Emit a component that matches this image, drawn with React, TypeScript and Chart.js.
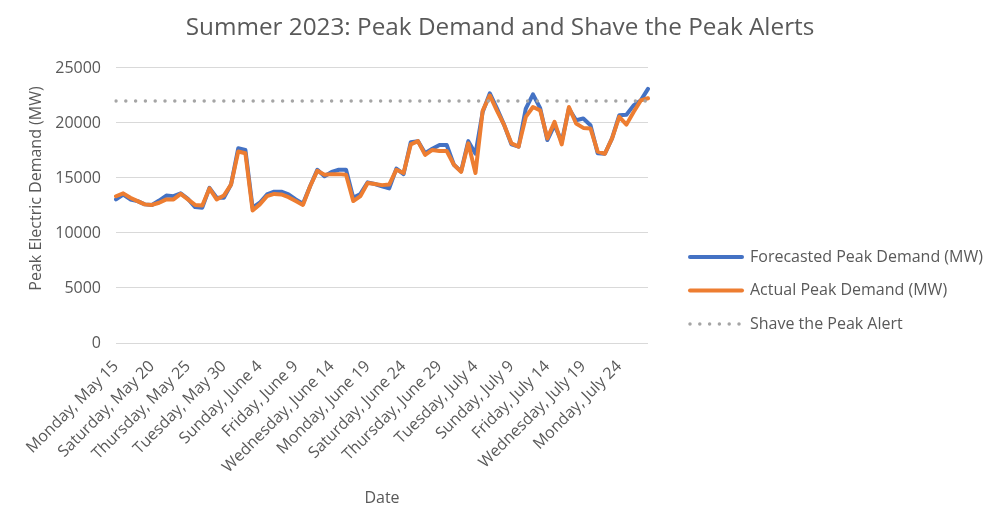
import React, { useEffect, useRef } from 'react';
import { Chart, registerables } from 'chart.js';

Chart.register(...registerables);

const categories = [
  'Monday, May 15', 'Tuesday, May 16', 'Wednesday, May 17', 'Thursday, May 18', 'Friday, May 19',
  'Saturday, May 20', 'Sunday, May 21', 'Monday, May 22', 'Tuesday, May 23', 'Wednesday, May 24',
  'Thursday, May 25', 'Friday, May 26', 'Saturday, May 27', 'Sunday, May 28', 'Monday, May 29',
  'Tuesday, May 30', 'Wednesday, May 31', 'Thursday, June 1', 'Friday, June 2', 'Saturday, June 3',
  'Sunday, June 4', 'Monday, June 5', 'Tuesday, June 6', 'Wednesday, June 7', 'Thursday, June 8',
  'Friday, June 9', 'Saturday, June 10', 'Sunday, June 11', 'Monday, June 12', 'Tuesday, June 13',
  'Wednesday, June 14', 'Thursday, June 15', 'Friday, June 16', 'Saturday, June 17', 'Sunday, June 18',
  'Monday, June 19', 'Tuesday, June 20', 'Wednesday, June 21', 'Thursday, June 22', 'Friday, June 23',
  'Saturday, June 24', 'Sunday, June 25', 'Monday, June 26', 'Tuesday, June 27', 'Wednesday, June 28',
  'Thursday, June 29', 'Friday, June 30', 'Saturday, July 1', 'Sunday, July 2', 'Monday, July 3',
  'Tuesday, July 4', 'Wednesday, July 5', 'Thursday, July 6', 'Friday, July 7', 'Saturday, July 8',
  'Sunday, July 9', 'Monday, July 10', 'Tuesday, July 11', 'Wednesday, July 12', 'Thursday, July 13',
  'Friday, July 14', 'Saturday, July 15', 'Sunday, July 16', 'Monday, July 17', 'Tuesday, July 18',
  'Wednesday, July 19', 'Thursday, July 20', 'Friday, July 21', 'Saturday, July 22', 'Sunday, July 23',
  'Monday, July 24', 'Tuesday, July 25', 'Wednesday, July 26', 'Thursday, July 27', 'Friday, July 28',
];

const forecastMW = [
  13050, 13500, 13050, 12900, 12600, 12550, 12950, 13400, 13350, 13600,
  13100, 12350, 12300, 14100, 13200, 13200, 14400, 17700, 17550, 12300,
  12750, 13500, 13750, 13750, 13500, 13050, 12650, 14250, 15750, 15150,
  15550, 15750, 15750, 13200, 13550, 14600, 14450, 14250, 14050, 15850,
  15350, 18250, 18350, 17250, 17650, 18000, 18000, 16200, 15600, 18350,
  17200, 21000, 22700, 21300, 19800, 18050, 17850, 21300, 22600, 21350,
  18450, 19800, 18300, 21300, 20250, 20400, 19800, 17250, 17200, 18600,
  20700, 20750, 21600, 22050, 23100,
];

const actualMW = [
  13340, 13600, 13200, 12900, 12600, 12550, 12750, 13050, 13050, 13550,
  13050, 12550, 12500, 14050, 13050, 13400, 14400, 17400, 17250, 12050,
  12600, 13350, 13550, 13500, 13250, 12900, 12550, 14250, 15650, 15300,
  15350, 15350, 15300, 12900, 13350, 14550, 14450, 14350, 14400, 15750,
  15450, 18050, 18350, 17100, 17550, 17450, 17450, 16200, 15550, 18150,
  15450, 21100, 22500, 21100, 19800, 18150, 17850, 20550, 21450, 21150,
  18600, 20100, 18050, 21450, 19950, 19550, 19500, 17400, 17200, 18600,
  20550, 19850, 21000, 22050, 22250,
];

const ALERT_MW = 22000;
const alertMW = categories.map(() => ALERT_MW);

const Y_MIN = 0;
const Y_MAX = 25000;
const Y_STEP = 5000;
const LABEL_EVERY = 5;

const TEXT = '#595959';
const FONT = 'Open Sans';

const sideLegend = {
  id: 'sideLegend',
  afterDraw(chart: any) {
    const { ctx, chartArea } = chart;
    const x0 = chartArea.right + 42;
    const x1 = x0 + 52;
    const textX = x1 + 8;
    const yStart = 257;
    const gap = 33.5;
    chart.data.datasets.forEach((ds: any, i: number) => {
      const y = yStart + i * gap;
      ctx.save();
      ctx.strokeStyle = ds.borderColor;
      ctx.lineWidth = ds.borderWidth;
      ctx.lineCap = 'round';
      ctx.setLineDash(ds.borderDash || []);
      ctx.beginPath();
      ctx.moveTo(x0, y);
      ctx.lineTo(x1, y);
      ctx.stroke();
      ctx.setLineDash([]);
      ctx.fillStyle = TEXT;
      ctx.font = `16px "${FONT}"`;
      ctx.textAlign = 'left';
      ctx.textBaseline = 'middle';
      ctx.fillText(ds.label, textX, y);
      ctx.restore();
    });
  },
};

export default function App() {
  const ref = useRef<HTMLCanvasElement | null>(null);

  useEffect(() => {
    document.body.style.margin = '0';
    const canvas = ref.current;
    if (!canvas) return;
    Chart.defaults.font.family = FONT;
    const chart = new Chart(canvas, {
      type: 'line',
      data: {
        labels: categories,
        datasets: [
          {
            label: 'Forecasted Peak Demand (MW)',
            data: forecastMW,
            borderColor: '#4472C4',
            backgroundColor: '#4472C4',
            borderWidth: 4,
            pointRadius: 0,
            tension: 0,
            borderJoinStyle: 'round',
            borderCapStyle: 'round',
            order: 3,
          },
          {
            label: 'Actual Peak Demand (MW)',
            data: actualMW,
            borderColor: '#ED7D31',
            backgroundColor: '#ED7D31',
            borderWidth: 4,
            pointRadius: 0,
            tension: 0,
            borderJoinStyle: 'round',
            borderCapStyle: 'round',
            order: 2,
          },
          {
            label: 'Shave the Peak Alert',
            data: alertMW,
            borderColor: '#A5A5A5',
            backgroundColor: '#A5A5A5',
            borderWidth: 3.5,
            borderDash: [0, 9.8],
            borderCapStyle: 'round',
            pointRadius: 0,
            tension: 0,
            order: 1,
          },
        ],
      },
      options: {
        responsive: false,
        animation: false,
        layout: { padding: 0 },
        plugins: {
          legend: { display: false },
          tooltip: { enabled: false },
          title: {
            display: true,
            text: 'Summer 2023: Peak Demand and Shave the Peak Alerts',
            color: TEXT,
            font: { family: FONT, size: 24.3, weight: 'normal' },
            padding: { top: 13.4, bottom: 25.4 },
          },
        },
        scales: {
          x: {
            type: 'category',
            offset: false,
            grid: { display: false },
            border: { display: false },
            ticks: {
              autoSkip: false,
              maxRotation: 45,
              minRotation: 45,
              color: TEXT,
              font: { family: FONT, size: 16 },
              padding: 6,
              callback: (_v: any, i: number) => (i % LABEL_EVERY === 0 ? categories[i] : ''),
            },
            title: {
              display: true,
              text: 'Date',
              color: TEXT,
              font: { family: FONT, size: 16 },
              padding: { top: 0, bottom: 22.4 },
            },
            afterFit: (scale: any) => {
              scale.height = 187;
            },
          },
          y: {
            min: Y_MIN,
            max: Y_MAX,
            grid: { color: '#D9D9D9', lineWidth: 1, drawTicks: false },
            border: { display: false },
            ticks: {
              stepSize: Y_STEP,
              color: TEXT,
              font: { family: FONT, size: 16 },
              padding: 15,
              callback: (v: any) => String(v),
            },
            title: {
              display: true,
              text: 'Peak Electric Demand (MW)',
              color: TEXT,
              font: { family: FONT, size: 16 },
              padding: { top: 26.4, bottom: 0 },
            },
            afterFit: (scale: any) => {
              scale.width = 116;
            },
            afterUpdate: (scale: any) => {
              if (!scale.__titleShifted) {
                const orig = scale.drawTitle.bind(scale);
                scale.drawTitle = () => {
                  const c = scale.ctx;
                  c.save();
                  c.translate(0, -17);
                  orig();
                  c.restore();
                };
                scale.__titleShifted = true;
              }
            },
          },
          legendSpace: {
            type: 'linear',
            position: 'right',
            display: true,
            grid: { display: false },
            border: { display: false },
            ticks: { display: false },
            afterFit: (scale: any) => {
              scale.width = 352;
            },
          },
        },
      },
      plugins: [sideLegend],
    } as any);
    return () => chart.destroy();
  }, []);

  return (
    <div style={{ position: 'relative', width: 1000, height: 530, background: '#fff' }}>
      <canvas ref={ref} width={1000} height={530} />
    </div>
  );
}
